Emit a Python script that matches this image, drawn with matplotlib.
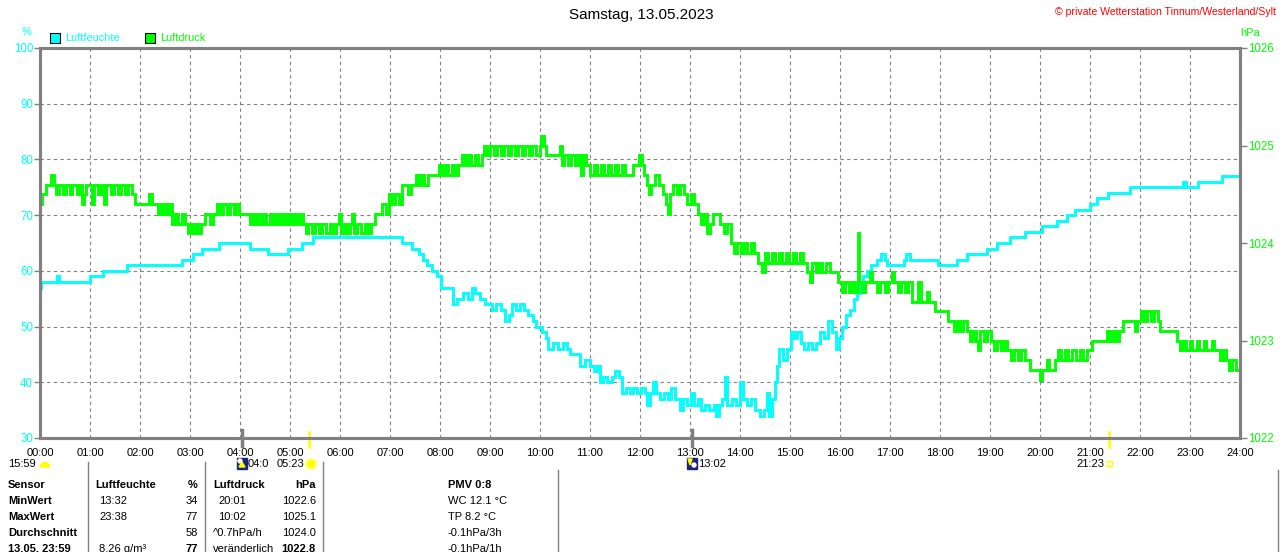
import numpy as np
import matplotlib.pyplot as plt
from matplotlib.patches import Rectangle, Circle, Wedge, Polygon
from matplotlib.transforms import blended_transform_factory

plt.rcParams['font.family'] = ['Liberation Sans', 'DejaVu Sans']

# Luftfeuchte (%) - Zeit in Stunden, Werte
hum_h = [0.00, 0.02, 0.34, 0.38, 1.00, 1.26, 1.74, 2.84, 3.06, 3.24, 3.58, 4.20, 4.56, 4.96, 5.24, 5.46,
         7.24, 7.44, 7.58, 7.66, 7.74, 7.84, 7.94, 8.02, 8.26, 8.34, 8.46, 8.56, 8.64, 8.70, 8.80, 8.90,
         9.04, 9.12, 9.22, 9.30, 9.38, 9.44, 9.52, 9.60, 9.68, 9.76, 9.86, 9.92, 10.04, 10.12, 10.16, 10.26,
         10.36, 10.46, 10.54, 10.60, 10.80, 10.90, 11.00, 11.08, 11.14, 11.20, 11.26, 11.34, 11.44, 11.50,
         11.58, 11.64, 11.72, 11.80, 11.86, 11.94, 12.02, 12.10, 12.14, 12.20, 12.26, 12.32, 12.40, 12.48,
         12.56, 12.62, 12.70, 12.80, 12.86, 12.94, 13.02, 13.08, 13.16, 13.22, 13.30, 13.38, 13.48, 13.52,
         13.58, 13.64, 13.70, 13.74, 13.84, 13.92, 14.00, 14.06, 14.14, 14.22, 14.30, 14.40, 14.48, 14.54,
         14.58, 14.64, 14.70, 14.74, 14.78, 14.86, 14.94, 15.02, 15.08, 15.14, 15.22, 15.28, 15.36, 15.44,
         15.52, 15.60, 15.68, 15.76, 15.84, 15.92, 15.98, 16.04, 16.12, 16.20, 16.28, 16.34, 16.40, 16.46,
         16.54, 16.62, 16.74, 16.82, 16.90, 16.94, 17.28, 17.32, 17.40, 17.96, 18.34, 18.54, 18.94, 19.14,
         19.40, 19.70, 20.04, 20.34, 20.54, 20.70, 21.00, 21.14, 21.36, 21.80, 22.86, 22.92, 23.16, 23.64, 24.00]
hum_v = [57, 58, 59, 58, 59, 60, 61, 62, 63, 64, 65, 64, 63, 64, 65, 66,
         65, 64, 63, 62, 61, 60, 59, 57, 54, 55, 56, 55, 57, 56, 55, 54,
         53, 54, 53, 51, 52, 54, 53, 54, 53, 52, 51, 50, 49, 48, 46, 47,
         46, 47, 46, 45, 43, 44, 43, 42, 43, 40, 41, 40, 41, 42,
         41, 38, 39, 38, 39, 38, 39, 38, 36, 38, 40, 38, 37, 38,
         37, 39, 37, 35, 37, 36, 38, 36, 37, 35, 36, 35, 36, 34,
         36, 37, 41, 36, 37, 36, 40, 37, 36, 37, 35, 34, 35, 38,
         34, 37, 40, 43, 46, 44, 46, 49, 48, 49, 47, 46, 47, 46,
         47, 49, 48, 51, 49, 46, 48, 50, 52, 53, 55, 56, 58, 59,
         60, 61, 62, 63, 62, 61, 62, 63, 62, 61, 62, 63, 64, 65,
         66, 67, 68, 69, 70, 71, 72, 73, 74, 75, 76, 75, 76, 77, 77]

# Luftdruck (hPa)
p_h = [0.00, 0.04, 0.12, 0.22, 0.27, 0.32, 0.38, 0.46, 0.52, 0.60, 0.64, 0.74, 0.78, 0.84, 0.88, 0.92,
       1.04, 1.08, 1.16, 1.22, 1.28, 1.32, 1.42, 1.48, 1.56, 1.62, 1.70, 1.76, 1.84, 1.90, 2.18, 2.24,
       2.36, 2.42, 2.46, 2.52, 2.56, 2.60, 2.64, 2.70, 2.76, 2.84, 2.90, 2.96, 3.02, 3.06, 3.12, 3.16,
       3.22, 3.30, 3.40, 3.46, 3.54, 3.60, 3.66, 3.74, 3.80, 3.88, 3.92, 3.98, 4.20, 4.24, 4.28, 4.34,
       4.40, 4.46, 4.52, 4.60, 4.66, 4.72, 4.78, 4.84, 4.90, 4.96, 5.02, 5.08, 5.14, 5.20, 5.26, 5.32,
       5.36, 5.44, 5.50, 5.58, 5.64, 5.72, 5.80, 5.86, 5.92, 5.98, 6.02, 6.08, 6.14, 6.20, 6.24, 6.28,
       6.34, 6.42, 6.50, 6.56, 6.62, 6.70, 6.84, 6.92, 6.98, 7.04, 7.10, 7.18, 7.24, 7.36, 7.42, 7.52,
       7.56, 7.62, 7.68, 7.76, 7.98, 8.04, 8.10, 8.16, 8.24, 8.30, 8.36, 8.44, 8.50, 8.56, 8.62, 8.70,
       8.76, 8.84, 8.88, 8.94, 9.00, 9.08, 9.14, 9.22, 9.28, 9.36, 9.42, 9.50, 9.56, 9.64, 9.70, 9.78,
       9.84, 9.92, 10.00, 10.02, 10.08, 10.12, 10.40, 10.44, 10.48, 10.56, 10.62, 10.70, 10.76, 10.82,
       10.86, 10.92, 11.00, 11.08, 11.14, 11.22, 11.28, 11.36, 11.42, 11.50, 11.56, 11.64, 11.70, 11.86,
       11.98, 12.04, 12.08, 12.14, 12.18, 12.22, 12.30, 12.38, 12.46, 12.52, 12.56, 12.60, 12.66, 12.74,
       12.80, 12.88, 12.94, 13.02, 13.08, 13.16, 13.22, 13.28, 13.34, 13.40, 13.46, 13.60, 13.68, 13.74,
       13.82, 13.88, 13.94, 14.02, 14.08, 14.14, 14.22, 14.28, 14.36, 14.44, 14.50, 14.56, 14.64, 14.70,
       14.78, 14.84, 14.92, 14.98, 15.06, 15.12, 15.20, 15.26, 15.34, 15.40, 15.44, 15.52, 15.58, 15.64,
       15.72, 15.80, 15.96, 16.04, 16.10, 16.18, 16.24, 16.30, 16.35, 16.38, 16.44, 16.50, 16.60, 16.64,
       16.74, 16.80, 16.90, 16.96, 17.04, 17.08, 17.16, 17.22, 17.30, 17.36, 17.44, 17.56, 17.62, 17.74,
       17.78, 17.90, 18.16, 18.28, 18.34, 18.40, 18.46, 18.54, 18.60, 18.66, 18.72, 18.76, 18.80, 18.88,
       18.94, 19.02, 19.08, 19.14, 19.22, 19.28, 19.34, 19.42, 19.48, 19.56, 19.62, 19.70, 19.80, 20.00,
       20.04, 20.14, 20.18, 20.30, 20.36, 20.42, 20.50, 20.56, 20.64, 20.72, 20.80, 20.86, 20.94, 21.04,
       21.34, 21.40, 21.46, 21.52, 21.58, 21.66, 21.90, 21.94, 22.02, 22.08, 22.14, 22.22, 22.28, 22.36,
       22.40, 22.74, 22.80, 22.86, 22.92, 23.00, 23.04, 23.14, 23.18, 23.28, 23.32, 23.44, 23.48, 23.60,
       23.66, 23.72, 23.78, 23.84, 23.92, 24.00]
p_v = [1024.4, 1024.5, 1024.6, 1024.7, 1024.6, 1024.5, 1024.6, 1024.5, 1024.6, 1024.5, 1024.6, 1024.5, 1024.6, 1024.4, 1024.5, 1024.6,
       1024.4, 1024.6, 1024.5, 1024.6, 1024.4, 1024.6, 1024.5, 1024.6, 1024.5, 1024.6, 1024.5, 1024.6, 1024.5, 1024.4, 1024.5, 1024.4,
       1024.3, 1024.4, 1024.3, 1024.4, 1024.3, 1024.4, 1024.2, 1024.3, 1024.2, 1024.3, 1024.2, 1024.1, 1024.2, 1024.1, 1024.2, 1024.1,
       1024.2, 1024.3, 1024.2, 1024.3, 1024.4, 1024.3, 1024.4, 1024.3, 1024.4, 1024.3, 1024.4, 1024.3, 1024.2, 1024.3, 1024.2, 1024.3,
       1024.2, 1024.3, 1024.2, 1024.3, 1024.2, 1024.3, 1024.2, 1024.3, 1024.2, 1024.3, 1024.2, 1024.3, 1024.2, 1024.3, 1024.2, 1024.1,
       1024.2, 1024.1, 1024.2, 1024.1, 1024.2, 1024.1, 1024.2, 1024.1, 1024.2, 1024.3, 1024.1, 1024.2, 1024.1, 1024.2, 1024.3, 1024.1,
       1024.2, 1024.1, 1024.2, 1024.1, 1024.2, 1024.3, 1024.4, 1024.3, 1024.5, 1024.4, 1024.5, 1024.4, 1024.6, 1024.5, 1024.6, 1024.7,
       1024.6, 1024.7, 1024.6, 1024.7, 1024.8, 1024.7, 1024.8, 1024.7, 1024.8, 1024.7, 1024.8, 1024.9, 1024.8, 1024.9, 1024.8, 1024.9,
       1024.8, 1024.9, 1025.0, 1024.9, 1025.0, 1024.9, 1025.0, 1024.9, 1025.0, 1024.9, 1025.0, 1024.9, 1025.0, 1024.9, 1025.0, 1024.9,
       1025.0, 1024.9, 1025.0, 1025.1, 1025.0, 1024.9, 1025.0, 1024.8, 1024.9, 1024.8, 1024.9, 1024.8, 1024.9, 1024.7,
       1024.9, 1024.8, 1024.7, 1024.8, 1024.7, 1024.8, 1024.7, 1024.8, 1024.7, 1024.8, 1024.7, 1024.8, 1024.7, 1024.8,
       1024.9, 1024.8, 1024.7, 1024.6, 1024.5, 1024.6, 1024.7, 1024.6, 1024.5, 1024.4, 1024.3, 1024.5, 1024.6, 1024.5,
       1024.6, 1024.5, 1024.4, 1024.5, 1024.4, 1024.3, 1024.2, 1024.3, 1024.1, 1024.2, 1024.3, 1024.2, 1024.1, 1024.2,
       1024.0, 1023.9, 1024.0, 1023.9, 1024.0, 1023.9, 1024.0, 1023.9, 1023.8, 1023.7, 1023.9, 1023.8, 1023.9, 1023.8,
       1023.9, 1023.8, 1023.9, 1023.8, 1023.9, 1023.8, 1023.9, 1023.8, 1023.7, 1023.6, 1023.8, 1023.7, 1023.8, 1023.7,
       1023.8, 1023.7, 1023.6, 1023.5, 1023.6, 1023.5, 1023.6, 1023.5, 1024.1, 1023.6, 1023.5, 1023.6, 1023.7, 1023.6,
       1023.5, 1023.6, 1023.5, 1023.6, 1023.7, 1023.6, 1023.5, 1023.6, 1023.5, 1023.6, 1023.4, 1023.6, 1023.4, 1023.5,
       1023.4, 1023.3, 1023.2, 1023.1, 1023.2, 1023.1, 1023.2, 1023.1, 1023.0, 1023.1, 1023.0, 1022.9, 1023.1, 1023.0,
       1023.1, 1023.0, 1022.9, 1023.0, 1022.9, 1023.0, 1022.9, 1022.8, 1022.9, 1022.8, 1022.9, 1022.8, 1022.7, 1022.6,
       1022.7, 1022.8, 1022.7, 1022.8, 1022.9, 1022.8, 1022.9, 1022.8, 1022.9, 1022.8, 1022.9, 1022.8, 1022.9, 1023.0,
       1023.1, 1023.0, 1023.1, 1023.0, 1023.1, 1023.2, 1023.1, 1023.2, 1023.3, 1023.2, 1023.3, 1023.2, 1023.3, 1023.2,
       1023.1, 1023.0, 1022.9, 1023.0, 1022.9, 1023.0, 1022.9, 1023.0, 1022.9, 1023.0, 1022.9, 1023.0, 1022.9, 1022.8,
       1022.9, 1022.8, 1022.7, 1022.8, 1022.7, 1022.7]

hours = list(range(25))
hour_labels = ['%02d:00' % h for h in hours]
hum_ticks = [30, 40, 50, 60, 70, 80, 90, 100]
p_ticks = [1022, 1023, 1024, 1025, 1026]

# Tabelle unten
table_rows = [
    ['Sensor', 'Luftfeuchte', '%', 'Luftdruck', 'hPa', 'PMV 0:8'],
    ['MinWert', '13:32', '34', '20:01', '1022.6', 'WC 12.1 °C'],
    ['MaxWert', '23:38', '77', '10:02', '1025.1', 'TP 8.2 °C'],
    ['Durchschnitt', '', '58', '^0.7hPa/h', '1024.0', '-0.1hPa/3h'],
    ['13.05. 23:59', '8.26 g/m³', '77', 'veränderlich', '1022.8', '-0.1hPa/1h'],
]

CYAN = '#00FFFF'
GREEN = '#00FF00'
GRAY = '#808080'

W, H = 1280, 552
fig = plt.figure(figsize=(12.8, 5.52), dpi=100)
ax = fig.add_axes([40 / W, 1 - 438 / H, 1200 / W, 390 / H])
ax2 = ax.twinx()

ax.plot(hum_h, hum_v, color=CYAN, lw=2.1, drawstyle='steps-post', solid_joinstyle='miter')
ax2.plot(p_h, p_v, color=GREEN, lw=2.1, drawstyle='steps-post', solid_joinstyle='miter')

ax.set_xlim(0, 24)
ax.set_ylim(30, 100)
ax2.set_ylim(1022, 1026)
ax.set_xticks(hours)
ax.set_xticklabels(hour_labels)
ax.set_yticks(hum_ticks)
ax2.set_yticks(p_ticks)

ax.grid(True, color=GRAY, linestyle=(0, (3, 3)), lw=0.8)
for a in (ax, ax2):
    for s in a.spines.values():
        s.set_color(GRAY)
        s.set_linewidth(2.2)
ax.tick_params(axis='x', length=0, pad=7, labelsize=8, labelcolor='black')
ax.tick_params(axis='y', color=GRAY, length=4, width=1, pad=1, labelsize=8.3, labelcolor=CYAN)
ax2.tick_params(axis='y', color=GRAY, length=5, width=1, pad=1, labelsize=8.3, labelcolor=GREEN)

# Mond- und Sonnenmarken an der Zeitachse
tr = blended_transform_factory(ax.transData, ax.transAxes)
for t in (4.03, 13.03):
    ax.plot([t, t], [-0.02, 0.02], color=GRAY, lw=2.5, transform=tr, clip_on=False)
for t in (5.383, 21.383):
    ax.plot([t, t], [-0.022, 0.016], color='#FFFF00', lw=1.8, transform=tr, clip_on=False)

# Overlay in Pixelkoordinaten fuer Texte und Symbole
ov = fig.add_axes([0, 0, 1, 1], zorder=5)
ov.set_xlim(0, W)
ov.set_ylim(H, 0)
ov.axis('off')

ov.text(641, 15, 'Samstag, 13.05.2023', ha='center', va='center', fontsize=11)
ov.text(1276, 12, '© private Wetterstation Tinnum/Westerland/Sylt', ha='right', va='center',
        fontsize=7.6, color='red')
ov.text(27, 32, '%', ha='center', va='center', fontsize=8, color=CYAN)
ov.text(1250, 33, 'hPa', ha='center', va='center', fontsize=8, color=GREEN)
ov.add_patch(Rectangle((50, 33), 10, 10, facecolor=CYAN, edgecolor='black', lw=0.8))
ov.text(65, 38, 'Luftfeuchte', ha='left', va='center', fontsize=7.8, color=CYAN)
ov.add_patch(Rectangle((145, 33), 10, 10, facecolor=GREEN, edgecolor='black', lw=0.8))
ov.text(160, 38, 'Luftdruck', ha='left', va='center', fontsize=7.8, color=GREEN)

# Sonnen-/Mondzeiten
ov.text(8, 464, '15:59', ha='left', va='center', fontsize=8)
ov.add_patch(Wedge((45, 467), 4.5, 180, 360, color='#FFFF00'))
ov.add_patch(Rectangle((237, 458), 10, 11, color='#1a237e'))
ov.add_patch(Circle((240, 461), 2, color='white'))
ov.add_patch(Polygon([(242, 462), (245, 467), (239, 467)], color='#FFFF00'))
ov.text(248, 464, '04:0', ha='left', va='center', fontsize=8)
ov.text(277, 464, '05:23', ha='left', va='center', fontsize=8)
ov.add_patch(Circle((311, 464), 4, color='#FFFF00'))
ov.add_patch(Circle((311, 464), 6, fill=False, edgecolor='#FFFFB0', lw=1))
ov.add_patch(Rectangle((687, 458), 10, 11, color='#1a237e'))
ov.add_patch(Circle((694, 465), 2, color='white'))
ov.add_patch(Polygon([(688, 459), (692, 459), (690, 465)], color='#FFFF00'))
ov.text(698, 464, '13:02', ha='left', va='center', fontsize=8)
ov.text(1076, 464, '21:23', ha='left', va='center', fontsize=8)
ov.add_patch(Rectangle((1107, 461), 5, 5, fill=False, edgecolor='#FFFF00', lw=1))

# Tabelle
row_y = [485, 501, 517, 533, 549]
for i, row in enumerate(table_rows):
    y = row_y[i]
    hdr = i == 0
    bold_last = i == 4
    ov.text(8, y, row[0], ha='left', va='center', fontsize=8, fontweight='bold')
    ov.text(95 if hdr else 99, y, row[1], ha='left', va='center', fontsize=8,
            fontweight='bold' if hdr else 'normal')
    ov.text(198, y, row[2], ha='right', va='center', fontsize=8,
            fontweight='bold' if (hdr or bold_last) else 'normal')
    ov.text(213 if (hdr or i >= 3) else 218, y, row[3], ha='left', va='center', fontsize=8,
            fontweight='bold' if hdr else 'normal')
    ov.text(316, y, row[4], ha='right', va='center', fontsize=8,
            fontweight='bold' if (hdr or bold_last) else 'normal')
    ov.text(448, y, row[5], ha='left', va='center', fontsize=8,
            fontweight='bold' if hdr else 'normal')
for x in (88, 205, 323):
    ov.plot([x, x], [462, 552], color=GRAY, lw=1)
for x in (558, 1278):
    ov.plot([x, x], [470, 552], color=GRAY, lw=1)

fig.savefig('out.png', dpi=100, facecolor='white')
